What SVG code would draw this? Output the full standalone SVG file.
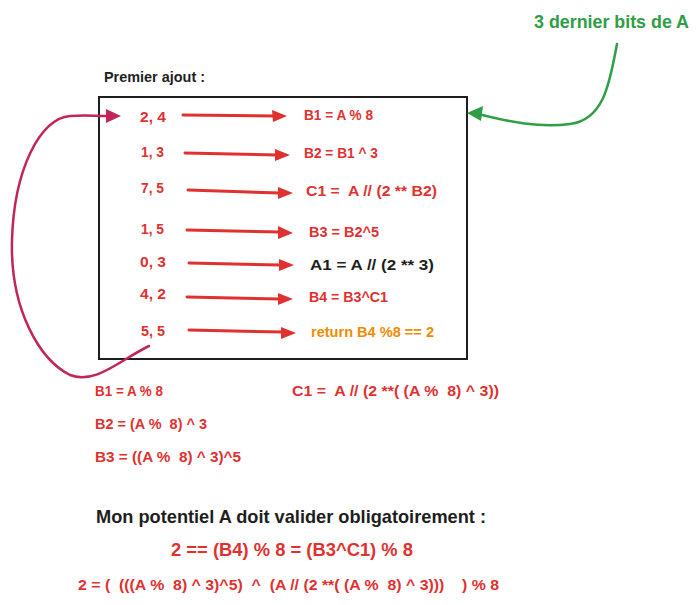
<svg xmlns="http://www.w3.org/2000/svg" width="700" height="605" viewBox="0 0 700 605">
<defs>
<style>
text{font-family:"Liberation Sans",Arial,sans-serif;font-weight:bold}
.r{fill:#e03131;font-size:15px}
.k{fill:#1e1e1e;font-size:15px}
.o{fill:#f08c00;font-size:14px}
.ar{stroke:#e03131;stroke-width:3;fill:none;stroke-linecap:round}
.hd{fill:#e03131}
</style>
</defs>
<rect width="700" height="605" fill="#ffffff"/>
<g id="title"><text x="104" y="82" class="k" style="font-size:14px" textLength="101" lengthAdjust="spacingAndGlyphs">Premier ajout :</text></g>
<g id="box"><rect x="99" y="97" width="368" height="262" fill="none" stroke="#1e1e1e" stroke-width="2"/></g>
<g id="green-label"><text x="534" y="28" style="fill:#2f9e44;font-size:18px" textLength="155" lengthAdjust="spacingAndGlyphs">3 dernier bits de A</text></g>
<g id="ops">
<text x="140" y="122" class="r" textLength="26" lengthAdjust="spacingAndGlyphs">2, 4</text>
<text x="141" y="157" class="r" textLength="23" lengthAdjust="spacingAndGlyphs">1, 3</text>
<text x="141" y="193" class="r" textLength="23" lengthAdjust="spacingAndGlyphs">7, 5</text>
<text x="141" y="234" class="r" textLength="23" lengthAdjust="spacingAndGlyphs">1, 5</text>
<text x="140" y="267" class="r" textLength="26" lengthAdjust="spacingAndGlyphs">0, 3</text>
<text x="140" y="299" class="r" textLength="26" lengthAdjust="spacingAndGlyphs">4, 2</text>
<text x="141" y="336" class="r" textLength="24" lengthAdjust="spacingAndGlyphs">5, 5</text>
</g>
<g id="results">
<text x="304" y="120" class="r" textLength="69" lengthAdjust="spacingAndGlyphs">B1 = A % 8</text>
<text x="304" y="158" class="r" textLength="74" lengthAdjust="spacingAndGlyphs">B2 = B1 ^ 3</text>
<text x="306" y="196" class="r" textLength="131" lengthAdjust="spacingAndGlyphs" xml:space="preserve">C1 =  A // (2 ** B2)</text>
<text x="309" y="237" class="r" textLength="70" lengthAdjust="spacingAndGlyphs">B3 = B2^5</text>
<text x="310" y="270" class="k" textLength="124" lengthAdjust="spacingAndGlyphs">A1 = A // (2 ** 3)</text>
<text x="309" y="302" class="r" textLength="79" lengthAdjust="spacingAndGlyphs">B4 = B3^C1</text>
<text x="311" y="337" class="o" textLength="123" lengthAdjust="spacingAndGlyphs">return B4 %8 == 2</text>
</g>
<g id="connectors">
<path class="ar" d="M183 115 L275 116"/><polygon class="hd" points="287,116 272,110 273,122"/>
<path class="ar" d="M185 153 L278 155"/><polygon class="hd" points="290,155 275,149 275,161"/>
<path class="ar" d="M188 190 L280 193"/><polygon class="hd" points="293,193 278,187 278,199"/>
<path class="ar" d="M187 230 L280 232"/><polygon class="hd" points="293,233 278,226 278,239"/>
<path class="ar" d="M189 263 L281 265"/><polygon class="hd" points="294,265 279,259 279,271"/>
<path class="ar" d="M187 297 L280 299"/><polygon class="hd" points="293,299 278,293 278,305"/>
<path class="ar" d="M189 330 L283 332"/><polygon class="hd" points="296,333 281,327 281,339"/>
<path d="M617 44 C610 80 605 120 570 124 C540 128 510 122 478 114" fill="none" stroke="#2f9e44" stroke-width="2.5" stroke-linecap="round"/>
<polygon points="467,113 483,106 481,121" fill="#2f9e44"/>
<path d="M149 346 C120 360 95 385 70 375 C40 360 10 310 12 240 C14 170 40 118 70 116 C85 115 95 116 106 116" fill="none" stroke="#c2255c" stroke-width="2.5" stroke-linecap="round"/>
<polygon points="121,116 106,109 106,123" fill="#c2255c"/>
</g>
<g id="derivations">
<text x="95" y="396" class="r" textLength="68" lengthAdjust="spacingAndGlyphs">B1 = A % 8</text>
<text x="292" y="396" class="r" textLength="207" lengthAdjust="spacingAndGlyphs" xml:space="preserve">C1 =  A // (2 **( (A %  8) ^ 3))</text>
<text x="95" y="429" class="r" textLength="112" lengthAdjust="spacingAndGlyphs" xml:space="preserve">B2 = (A %  8) ^ 3</text>
<text x="95" y="462" class="r" textLength="146" lengthAdjust="spacingAndGlyphs" xml:space="preserve">B3 = ((A %  8) ^ 3)^5</text>
</g>
<g id="conclusion">
<text x="96" y="523" style="fill:#1e1e1e;font-size:19px" textLength="390" lengthAdjust="spacingAndGlyphs">Mon potentiel A doit valider obligatoirement :</text>
<text x="171" y="556" style="fill:#e03131;font-size:19px" textLength="242" lengthAdjust="spacingAndGlyphs">2 == (B4) % 8 = (B3^C1) % 8</text>
<text x="78" y="590" class="r" textLength="421" lengthAdjust="spacingAndGlyphs" xml:space="preserve">2 = (  (((A %  8) ^ 3)^5)  ^  (A // (2 **( (A %  8) ^ 3)))    ) % 8</text>
</g>
</svg>
